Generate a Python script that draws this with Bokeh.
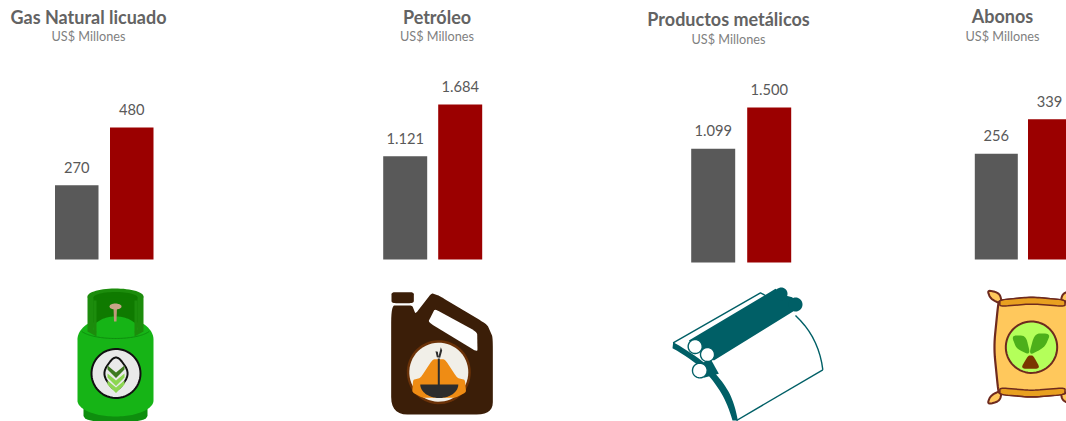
import numpy as np
from bokeh.embed import file_html
from bokeh.resources import INLINE
from bokeh.models import Range1d
from bokeh.plotting import figure
from bokeh.core.properties import value

# ---------- data ----------
titles = ["Gas Natural licuado", "Petróleo", "Productos metálicos", "Abonos"]
subtitle = "US$ Millones"
values_prev = [270, 1121, 1099, 256]
values_curr = [480, 1684, 1500, 339]
labels_prev = ["270", "1.121", "1.099", "256"]
labels_curr = ["480", "1.684", "1.500", "339"]

# ---------- layout (page pixels) ----------
W, H = 1066, 421
bar_prev_left = [54.5, 382.7, 690.7, 974.3]
bar_curr_left = [109.5, 437.7, 746.7, 1027.5]
bar_width = [43.5, 44, 44, 43]
base_y = [259, 259, 262, 259]
px_per_unit = [0.275, 0.0920, 0.1034, 0.4135]
title_x = [88, 436.5, 728, 1002]
title_y = [16, 16, 18, 15]
sub_y = [35, 35, 38, 35]

GREY, RED = "#595959", "#9B0000"

p = figure(width=W, height=H, x_range=Range1d(0, W), y_range=Range1d(H, 0),
           output_backend="svg", toolbar_location=None, min_border=0,
           outline_line_color=None, background_fill_color="white",
           border_fill_color="white")
p.axis.visible = False
p.grid.visible = False

font = value("Lato")
for i in range(4):
    name = f"panel{i}"
    s = px_per_unit[i]
    p.extra_y_ranges[name] = Range1d((base_y[i] - H) / s, base_y[i] / s)
    w = bar_width[i]
    xs = [bar_prev_left[i] + w / 2, bar_curr_left[i] + w / 2]
    vals = [values_prev[i], values_curr[i]]
    p.vbar(x=xs, top=vals, bottom=0, width=w, fill_color=[GREY, RED], line_color=None,
           y_range_name=name)
    p.text(x=xs, y=vals, text=[labels_prev[i], labels_curr[i]], y_range_name=name,
           text_font=font, text_font_size="14.7px", text_color="#595959",
           text_align="center", text_baseline="alphabetic", y_offset=-18)
    p.text(x=[title_x[i]], y=[title_y[i]], text=[titles[i]], text_font=font,
           text_font_size="18px", text_font_style="bold", text_color="#636363",
           text_align="center", text_baseline="alphabetic")
    p.text(x=[title_x[i]], y=[sub_y[i]], text=[subtitle], text_font=font,
           text_font_size="12.7px", text_color="#7F7F7F",
           text_align="center", text_baseline="alphabetic")


# ---------- icon helpers ----------
def rounded(pts, r=0.5, n=8):
    """Closed polygon whose corners are replaced by quadratic curves."""
    pts = np.array(pts, float)
    out = []
    m = len(pts)
    for i in range(m):
        a, b, c = pts[i - 1], pts[i], pts[(i + 1) % m]
        s, e = b + (a - b) * r, b + (c - b) * r
        for t in np.linspace(0, 1, n):
            out.append((1 - t) ** 2 * s + 2 * t * (1 - t) * b + t ** 2 * e)
    return np.array(out)


def ell(cx, cy, rx, ry, a0=0, a1=360, n=60):
    t = np.radians(np.linspace(a0, a1, n))
    return np.column_stack([cx + rx * np.cos(t), cy + ry * np.sin(t)])


def fill(pts, color, line=None, lw=0):
    pts = np.asarray(pts, float)
    p.patch(pts[:, 0], pts[:, 1], fill_color=color, line_color=line, line_width=lw)


def stroke(pts, color, lw=1):
    pts = np.asarray(pts, float)
    p.line(pts[:, 0], pts[:, 1], line_color=color, line_width=lw)


def Z(ox, oy, pts):
    """Convert coordinates measured on a 3x crop to page pixels."""
    return [(ox + x / 3, oy + y / 3) for x, y in pts]


def curve(pts, n=10):
    """Open chain of quadratic curves through control points."""
    pts = np.array(pts, float)
    out = [pts[0]]
    for i in range(1, len(pts) - 1):
        s = pts[i - 1] if i == 1 else (pts[i - 1] + pts[i]) / 2
        e = pts[i + 1] if i == len(pts) - 2 else (pts[i] + pts[i + 1]) / 2
        for t in np.linspace(0, 1, n):
            out.append((1 - t) ** 2 * s + 2 * t * (1 - t) * pts[i] + t ** 2 * e)
    return [tuple(q) for q in out]


# ---------- gas bottle ----------
GL, GD, GM = "#16B416", "#0F7A00", "#1C8C0C"
fill(rounded([(83, 400), (147, 400), (147, 421), (83, 421)], 0.3), "#0E8E0E")
fill(np.vstack([ell(115, 339, 38, 23, 180, 360), ell(115, 400, 38, 16, 0, 180)]), GL)
fill(ell(115, 296, 28, 8), GM)
fill([(87, 296), (143, 296), (143, 331), (134, 336), (134, 300), (96, 300), (96, 336), (87, 331)], GM)
fill(ell(115, 297, 22, 5.5), GD)
fill([(93, 297), (137, 297), (137, 322), (93, 322)], GD)
fill(np.vstack([ell(115, 329, 22, 13, 180, 360), ell(115, 331, 19, 7, 0, 180)]), GL)
fill([(93, 300), (96, 300), (96, 332), (93, 332)], GM)
fill([(134, 300), (137, 300), (137, 332), (134, 332)], GM)
stroke(ell(115, 327, 36, 11, 20, 160), "#0E8E0E", 1)
fill([(113, 306), (116.5, 306), (116, 321), (113.5, 321)], "#C09A7C")
fill(ell(115, 306, 6, 3), "#C9A488")
fill(ell(115.5, 373, 24.5, 24.5), "#E9E9E9", "#111111", 2)
leaf = [(115.5, 353), (130, 373), (115.5, 393), (101, 373)]
fill(rounded(leaf, 0.4), "#E9E9E9", "#111111", 2)
for dy in (0, 8, 15):
    fill([(107, 365 + dy), (115.5, 372 + dy), (124, 365 + dy), (124, 369 + dy), (115.5, 377.5 + dy), (107, 369 + dy)],
         "#8CD650" if dy else "#3E7A20")

# ---------- oil can ----------
BR = "#3B1E08"
fill(rounded(Z(375, 280, [(48, 35), (115, 35), (115, 68), (48, 68)]), 0.2), BR)
fill(rounded(Z(375, 280, [(47, 75), (110, 75), (120, 100), (168, 38), (190, 45), (335, 132), (352, 170), (352, 402),
                          (47, 402)]), 0.16), BR)
fill(rounded(Z(375, 280, [(178, 85), (305, 155), (306, 215), (158, 125)]), 0.12), "white")
fill(ell(438.3, 371.7, 32, 32), "#6B3208")
fill(ell(438.3, 371.7, 29.5, 29.5), "#F1EFE8")
fill(rounded(Z(375, 280, [(172, 236), (208, 236), (245, 292), (268, 298), (272, 335), (240, 352), (140, 352), (110, 335),
                          (113, 298), (135, 292)]), 0.18), "#EF8C14")
fill(Z(375, 280, [(135, 312), (248, 312)]) + [tuple(q) for q in ell(438.8, 384, 19, 13.5, 0, 180)], "#2D2D2D")
p.segment([438.3], [358], [438.3], [385], line_color="#2D2D2D", line_width=2)
fill(Z(375, 280, [(180, 212), (187, 214), (189, 228), (196, 200), (200, 210), (194, 232), (184, 230)]), "#2D2D2D")

# ---------- metal sheet ----------
TE = "#005F66"
Zm = lambda pts: Z(660, 280, pts)
stroke(Zm([(38, 187), (300, 37), (320, 48)]), TE, 1.4)
stroke(Zm([(228, 420), (487, 268)]), TE, 1.4)
stroke(Zm(curve([(405, 105), (475, 170), (487, 268)])), TE, 1.4)
fill(Zm([(118, 252), (150, 235), (175, 280), (130, 292)]), TE)
top = curve([(38, 185), (120, 232), (185, 300), (222, 365), (232, 420)])
bot = curve([(36, 203), (100, 240), (155, 295), (200, 365), (216, 420)])
fill(Zm(top + bot[::-1]), TE)
fill(Zm([(85, 180), (345, 25), (375, 45), (395, 50), (422, 78), (160, 240), (120, 205)]), TE)
fill(ell(660 + 362 / 3, 280 + 40 / 3, 19 / 3, 19 / 3), TE)
fill(ell(660 + 405 / 3, 280 + 72 / 3, 21 / 3, 21 / 3), TE)
for cx, cy, r in ((104, 198, 21), (141, 222, 21), (118, 270, 22)):
    fill(ell(660 + cx / 3, 280 + cy / 3, r / 3, r / 3), "white", TE, 1.4)

# ---------- fertiliser bag ----------
BO, BY, BA = "#6E2A1E", "#FFC85C", "#E8A020"
Za = lambda pts: Z(966, 280, pts)
for ear in ([(62, 28), (100, 38), (107, 72), (72, 55)],
            [(62, 372), (100, 362), (107, 328), (72, 345)],
            [(325, 28), (288, 38), (281, 72), (316, 55)],
            [(325, 372), (288, 362), (281, 328), (316, 345)]):
    fill(rounded(Za(ear), 0.4), BY, BO, 2)
fill(rounded(Za([(100, 60), (195, 50), (295, 60), (305, 75), (312, 200), (305, 330), (295, 340), (195, 350), (100, 340),
                 (95, 330), (82, 200), (95, 70)]), 0.3), BY, BO, 2.2)
fill(rounded(Za([(100, 58), (195, 50), (295, 58), (296, 78), (195, 70), (100, 78)]), 0.25), BA, BO, 1.5)
fill(rounded(Za([(100, 342), (195, 350), (295, 342), (296, 322), (195, 330), (100, 322)]), 0.25), BA, BO, 1.5)
fill(ell(1031, 346.7, 25.7, 25.7), "#B4FF5A", BO, 2)
fill(rounded(Za([(135, 165), (178, 165), (192, 224), (150, 205)]), 0.35), "#4CAF1A")
fill(rounded(Za([(252, 160), (205, 158), (186, 226), (235, 200)]), 0.35), "#4CAF1A")
fill(rounded(Za([(185, 225), (200, 225), (222, 265), (162, 265)]), 0.3), "#7A3500")

open("out.html", "w").write(file_html(p, INLINE))
